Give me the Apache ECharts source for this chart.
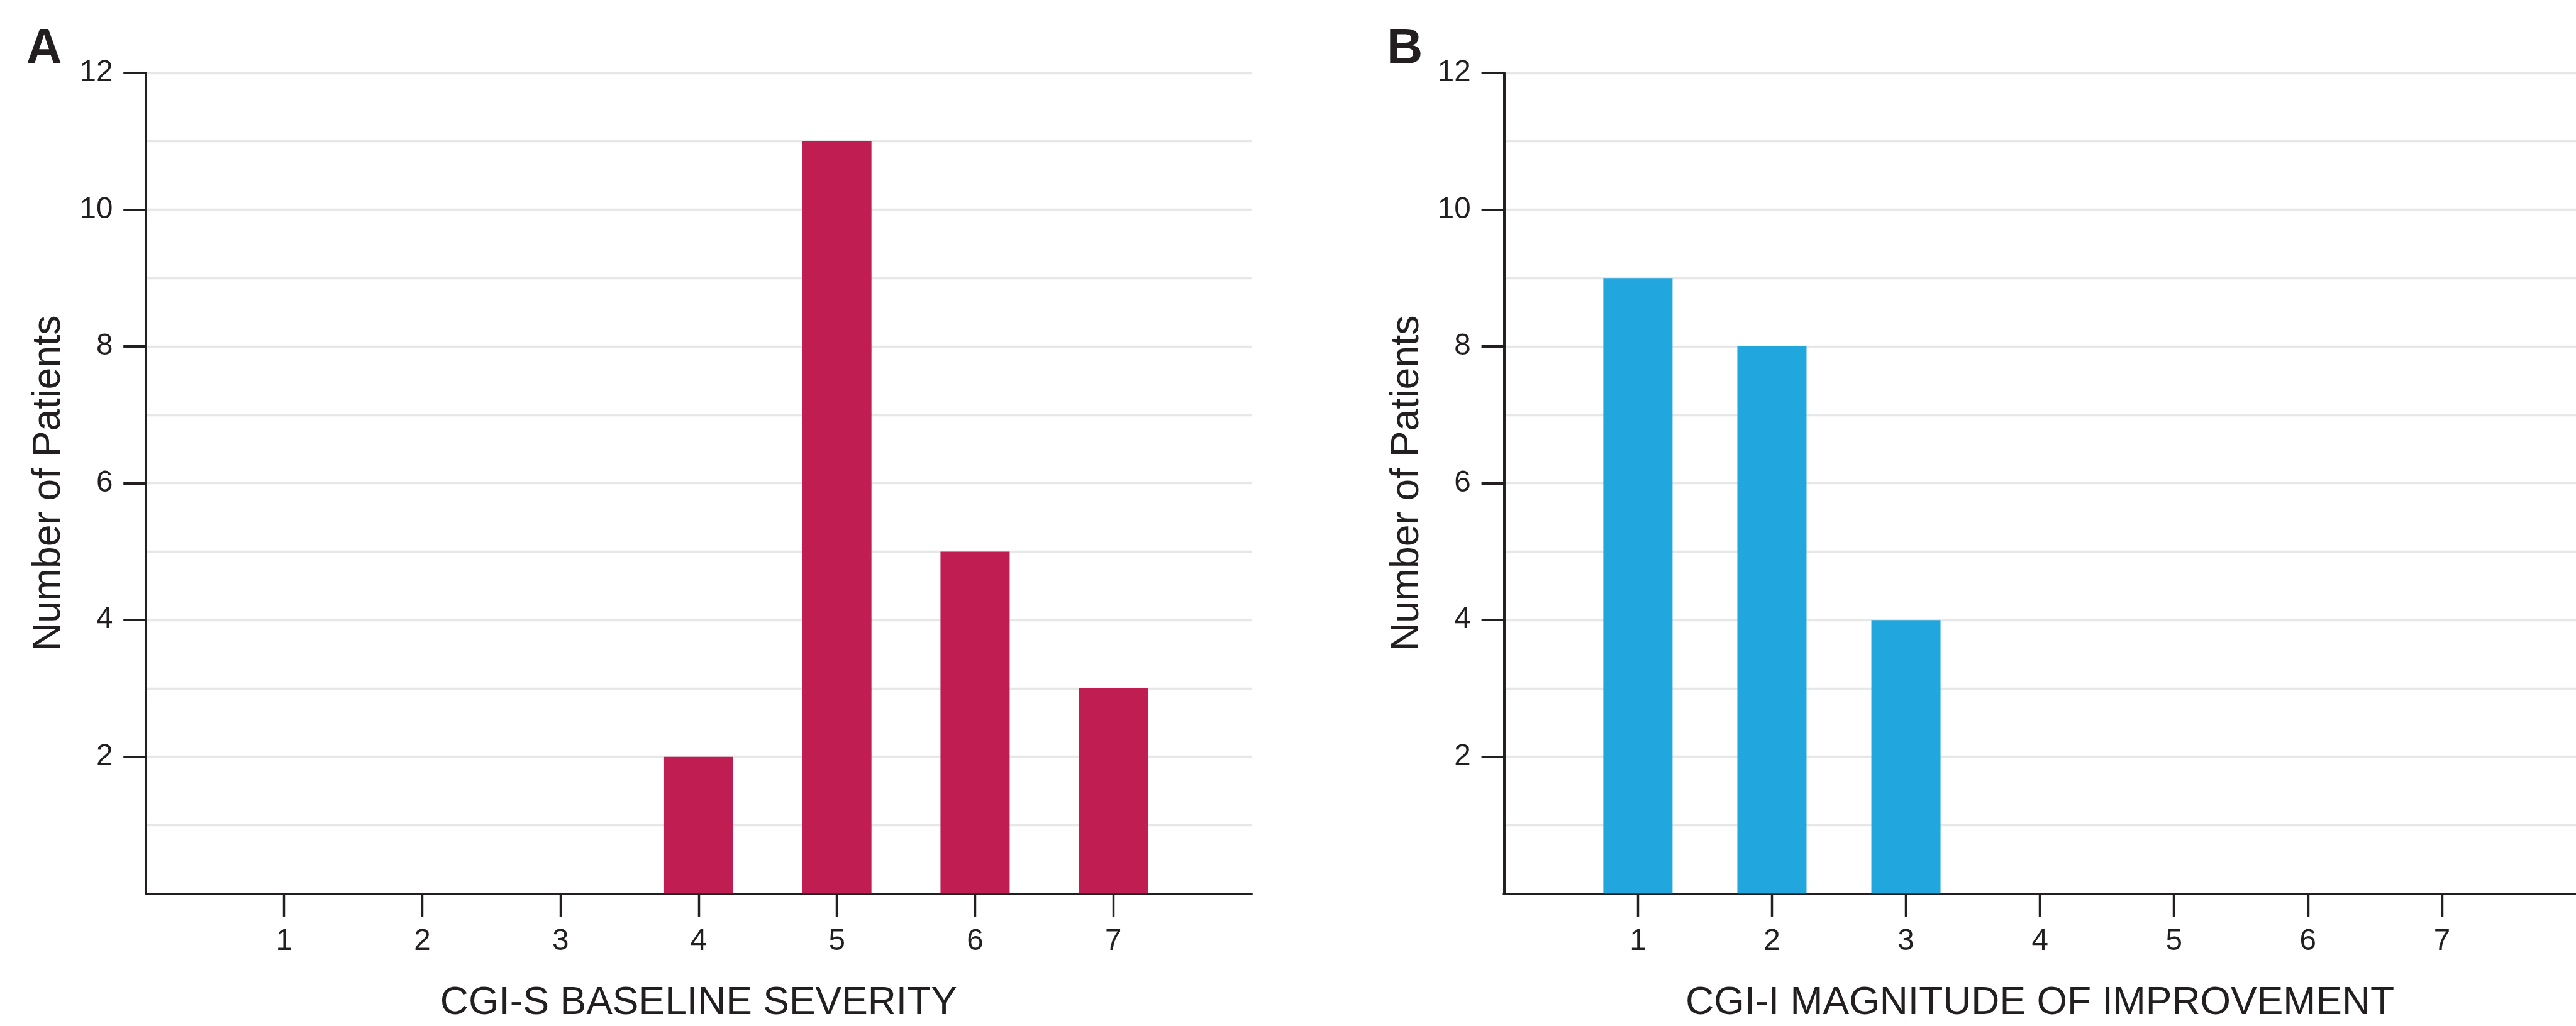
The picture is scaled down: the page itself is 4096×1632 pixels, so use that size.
<!DOCTYPE html>
<html>
<head>
<meta charset="utf-8">
<script src="https://cdn.jsdelivr.net/npm/echarts@6/dist/echarts.min.js"></script>
<style>
html,body{margin:0;padding:0;background:#fff;}
#chart{width:4096px;height:1632px;}
</style>
</head>
<body>
<div id="chart"></div>
<script>
// Data
const catsA = [1, 2, 3, 4, 5, 6, 7];
const valuesA = [0, 0, 0, 2, 11, 5, 3];
const catsB = [1, 2, 3, 4, 5, 6, 7];
const valuesB = [9, 8, 4, 0, 0, 0, 0];
const yTicks = [2, 4, 6, 8, 10, 12];
const xTitleA = 'CGI-S BASELINE SEVERITY';
const xTitleB = 'CGI-I MAGNITUDE OF IMPROVEMENT';
const yTitle = 'Number of Patients';

const S = 0.991;
const FONT = "'Liberation Sans', Arial, Helvetica, sans-serif";
const INK = '#231F20';
const GRID = '#E6E7E8';

function xAxisCfg(idx, cats, title) {
  return {
    type: 'value', gridIndex: idx, min: 0, max: cats.length + 1, interval: 1,
    axisLine: { show: true, onZero: false, lineStyle: { color: INK, width: 4 * S } },
    axisTick: { show: true, customValues: cats, length: 37 * S, lineStyle: { color: INK, width: 3.5 * S } },
    axisLabel: { customValues: cats, margin: 53 * S, fontSize: 48 * S, color: INK, fontFamily: FONT },
    splitLine: { show: false },
    name: title, nameLocation: 'middle', nameGap: 145 * S,
    nameTextStyle: { fontSize: 63 * S, color: INK, fontFamily: FONT }
  };
}
function yAxisCfg(idx) {
  return {
    type: 'value', gridIndex: idx, min: 0, max: 12, interval: 2,
    axisLine: { show: true, lineStyle: { color: INK, width: 4 * S } },
    axisTick: { show: true, customValues: yTicks, length: 36 * S, lineStyle: { color: INK, width: 4 * S } },
    axisLabel: { customValues: yTicks, margin: 53 * S, fontSize: 48 * S, color: INK, fontFamily: FONT },
    splitLine: { show: true, lineStyle: { color: GRID, width: 3.5 * S } },
    minorTick: { show: false, splitNumber: 2 },
    minorSplitLine: { show: true, lineStyle: { color: GRID, width: 3.5 * S } },
    name: yTitle, nameLocation: 'middle', nameGap: 124 * S, nameRotate: 90,
    nameTextStyle: { fontSize: 63 * S, color: INK, fontFamily: FONT }
  };
}

const chart = echarts.init(document.getElementById('chart'), null, { renderer: 'canvas' });
chart.setOption({
  animation: false,
  backgroundColor: '#ffffff',
  grid: [
    { left: 234 * S, top: 117 * S, width: 1774 * S, height: 1329 * S, containLabel: false },
    { left: 2413 * S, top: 117 * S, width: 1774 * S, height: 1329 * S, containLabel: false }
  ],
  xAxis: [xAxisCfg(0, catsA, xTitleA), xAxisCfg(1, catsB, xTitleB)],
  yAxis: [yAxisCfg(0), yAxisCfg(1)],
  graphic: [
    { type: 'text', left: 42 * S, top: 40 * S, style: { text: 'A', font: 'bold ' + (80 * S) + 'px ' + FONT, fill: INK } },
    { type: 'text', left: 2225 * S, top: 40 * S, style: { text: 'B', font: 'bold ' + (80 * S) + 'px ' + FONT, fill: INK } }
  ],
  series: [
    { type: 'bar', xAxisIndex: 0, yAxisIndex: 0, barWidth: 111 * S,
      itemStyle: { color: '#C01E52' },
      data: catsA.map((c, i) => [c, valuesA[i]]) },
    { type: 'bar', xAxisIndex: 1, yAxisIndex: 1, barWidth: 111 * S,
      itemStyle: { color: '#21A6DE' },
      data: catsB.map((c, i) => [c, valuesB[i]]) }
  ]
});
</script>
</body>
</html>
